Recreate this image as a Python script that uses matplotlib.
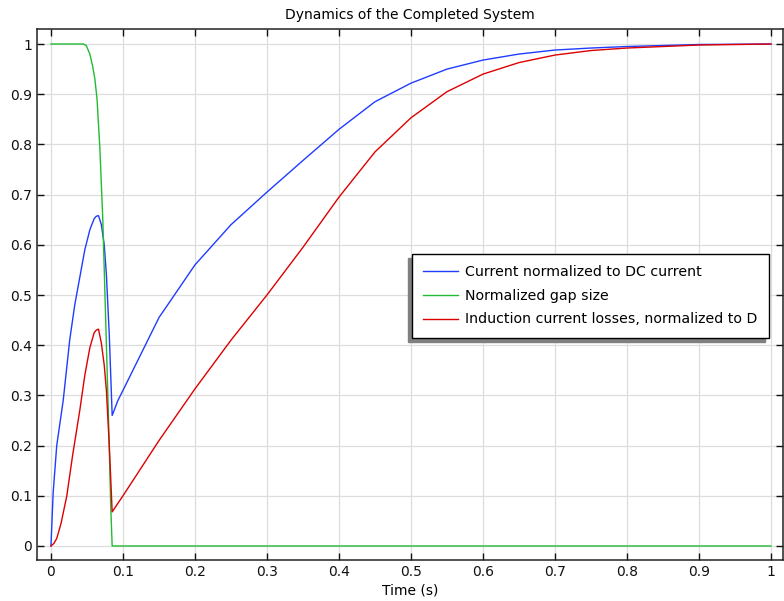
import matplotlib
matplotlib.use("Agg")
import matplotlib.pyplot as plt
from matplotlib.ticker import FuncFormatter

# time axis (s) and the three traces
t_current = [0, 0.003, 0.008, 0.017, 0.026, 0.033, 0.04, 0.047, 0.054, 0.06, 0.063, 0.066,
             0.07, 0.074, 0.077, 0.081, 0.085, 0.093, 0.1, 0.15, 0.2, 0.25, 0.3, 0.35,
             0.4, 0.45, 0.5, 0.55, 0.6, 0.65, 0.7, 0.75, 0.8, 0.9, 1.0]
current = [0, 0.105, 0.2, 0.29, 0.41, 0.48, 0.535, 0.59, 0.63, 0.652, 0.657, 0.658,
           0.64, 0.6, 0.54, 0.42, 0.26, 0.29, 0.31, 0.455, 0.56, 0.64, 0.705, 0.768,
           0.83, 0.885, 0.922, 0.95, 0.968, 0.98, 0.988, 0.992, 0.995, 0.999, 1.0]

t_gap = [0, 0.045, 0.049, 0.054, 0.058, 0.061, 0.064, 0.068, 0.072, 0.076, 0.08, 0.083, 0.085, 1.0]
gap = [1, 1, 0.997, 0.98, 0.955, 0.93, 0.89, 0.79, 0.65, 0.45, 0.25, 0.08, 0, 0]

t_losses = [0, 0.004, 0.008, 0.014, 0.022, 0.03, 0.04, 0.047, 0.054, 0.06, 0.063, 0.066,
            0.07, 0.074, 0.077, 0.081, 0.085, 0.1, 0.15, 0.2, 0.25, 0.3, 0.35, 0.4,
            0.45, 0.5, 0.55, 0.6, 0.65, 0.7, 0.75, 0.8, 0.9, 1.0]
losses = [0, 0.005, 0.015, 0.045, 0.1, 0.18, 0.27, 0.34, 0.395, 0.425, 0.43, 0.432,
          0.404, 0.36, 0.31, 0.2, 0.068, 0.1, 0.21, 0.313, 0.41, 0.5, 0.595, 0.695,
          0.785, 0.853, 0.905, 0.94, 0.963, 0.978, 0.987, 0.992, 0.998, 1.0]

labels = ["Current normalized to DC current",
          "Normalized gap size",
          "Induction current losses, normalized to D"]

fig = plt.figure(figsize=(7.84, 6.01), dpi=100)
ax = fig.add_axes([37 / 784, 41 / 601, 746 / 784, 531 / 601])

ax.plot(t_current, current, color="#1f3cff", lw=1.0, label=labels[0])
ax.plot(t_gap, gap, color="#22bb33", lw=1.0, label=labels[1])
ax.plot(t_losses, losses, color="#dd0000", lw=1.0, label=labels[2])

ax.set_xlim(-0.0194, 1.0167)
ax.set_ylim(-0.0279, 1.0299)
ax.set_xticks([i / 10 for i in range(11)])
ax.set_yticks([i / 10 for i in range(11)])
fmt = FuncFormatter(lambda v, p: f"{v:g}")
ax.xaxis.set_major_formatter(fmt)
ax.yaxis.set_major_formatter(fmt)
ax.tick_params(direction="in", length=5, width=1, top=True, right=True,
               labelsize=10, colors="#111111")
ax.grid(color="#dddddd", lw=0.9)
ax.set_axisbelow(True)
for s in ax.spines.values():
    s.set_color("#222222")
    s.set_linewidth(1.1)

ax.set_xlabel("Time (s)", fontsize=10, labelpad=3)
ax.set_title("Dynamics of the Completed System", fontsize=10, pad=7)

leg = ax.legend(loc="upper right", bbox_to_anchor=(0.981, 0.576), borderaxespad=0,
                fontsize=10.2, frameon=True, fancybox=False, framealpha=1,
                edgecolor="black", handlelength=2.45, handletextpad=0.55,
                labelspacing=0.68, borderpad=0.78,
                shadow={"ox": -3, "oy": -3, "color": "#808080", "alpha": 1})
leg.get_frame().set_linewidth(1.0)

fig.savefig("out.png", dpi=100)
